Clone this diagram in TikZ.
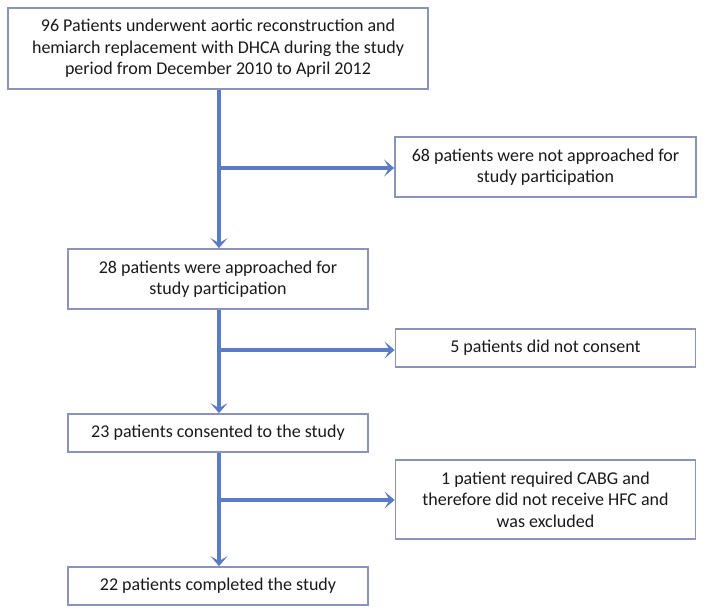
\documentclass[tikz,border=0pt]{standalone}
\usepackage{fontspec}
\setmainfont{Carlito}
\usetikzlibrary{arrows.meta}
\definecolor{boxline}{HTML}{8A93B8}
\definecolor{arrowblue}{HTML}{5B7BC4}
\definecolor{txt}{HTML}{1A1A1A}
\tikzset{
  flowbox/.style={draw=boxline, line width=1.8pt, fill=white, text=txt,
    align=center, inner sep=0pt, font=\fontsize{18}{21.5}\selectfont},
  flowarrow/.style={draw=arrowblue, line width=3.6pt,
    -{Stealth[length=10pt,width=17pt,inset=5pt]}},
  flowline/.style={draw=arrowblue, line width=3.6pt}
}
\begin{document}
\begin{tikzpicture}[x=1pt,y=-1pt]
\useasboundingbox (0,0) rectangle (704,614);
\node[flowbox, minimum width=420pt, minimum height=81pt] (b1) at (218,48.5)
  {96 Patients underwent aortic reconstruction and\\hemiarch replacement with DHCA during the study\\period from December 2010 to April 2012};
\node[flowbox, minimum width=301pt, minimum height=60pt] (b68) at (545.5,167)
  {68 patients were not approached for\\study participation};
\node[flowbox, minimum width=300pt, minimum height=60pt] (b28) at (218,279)
  {28 patients were approached for\\study participation};
\node[flowbox, minimum width=300pt, minimum height=38pt] (b5) at (545.5,348)
  {5 patients did not consent};
\node[flowbox, minimum width=300pt, minimum height=38pt] (b23) at (218,433)
  {23 patients consented to the study};
\node[flowbox, minimum width=300pt, minimum height=79pt] (b1p) at (545.5,499.5)
  {1 patient required CABG and\\therefore did not receive HFC and\\was excluded};
\node[flowbox, minimum width=300pt, minimum height=38pt] (b22) at (218,586)
  {22 patients completed the study};
\coordinate (j1) at (219,168);
\coordinate (j2) at (219,350);
\coordinate (j3) at (219,500);
\draw[flowarrow] (b1.south -| j1) -- (b28.north -| j1);
\draw[flowarrow] (j1) -- (j1 -| b68.west);
\draw[flowarrow] (b28.south -| j2) -- (b23.north -| j2);
\draw[flowarrow] (j2) -- (j2 -| b5.west);
\draw[flowarrow] (b23.south -| j3) -- (b22.north -| j3);
\draw[flowarrow] (j3) -- (j3 -| b1p.west);
\end{tikzpicture}
\end{document}
